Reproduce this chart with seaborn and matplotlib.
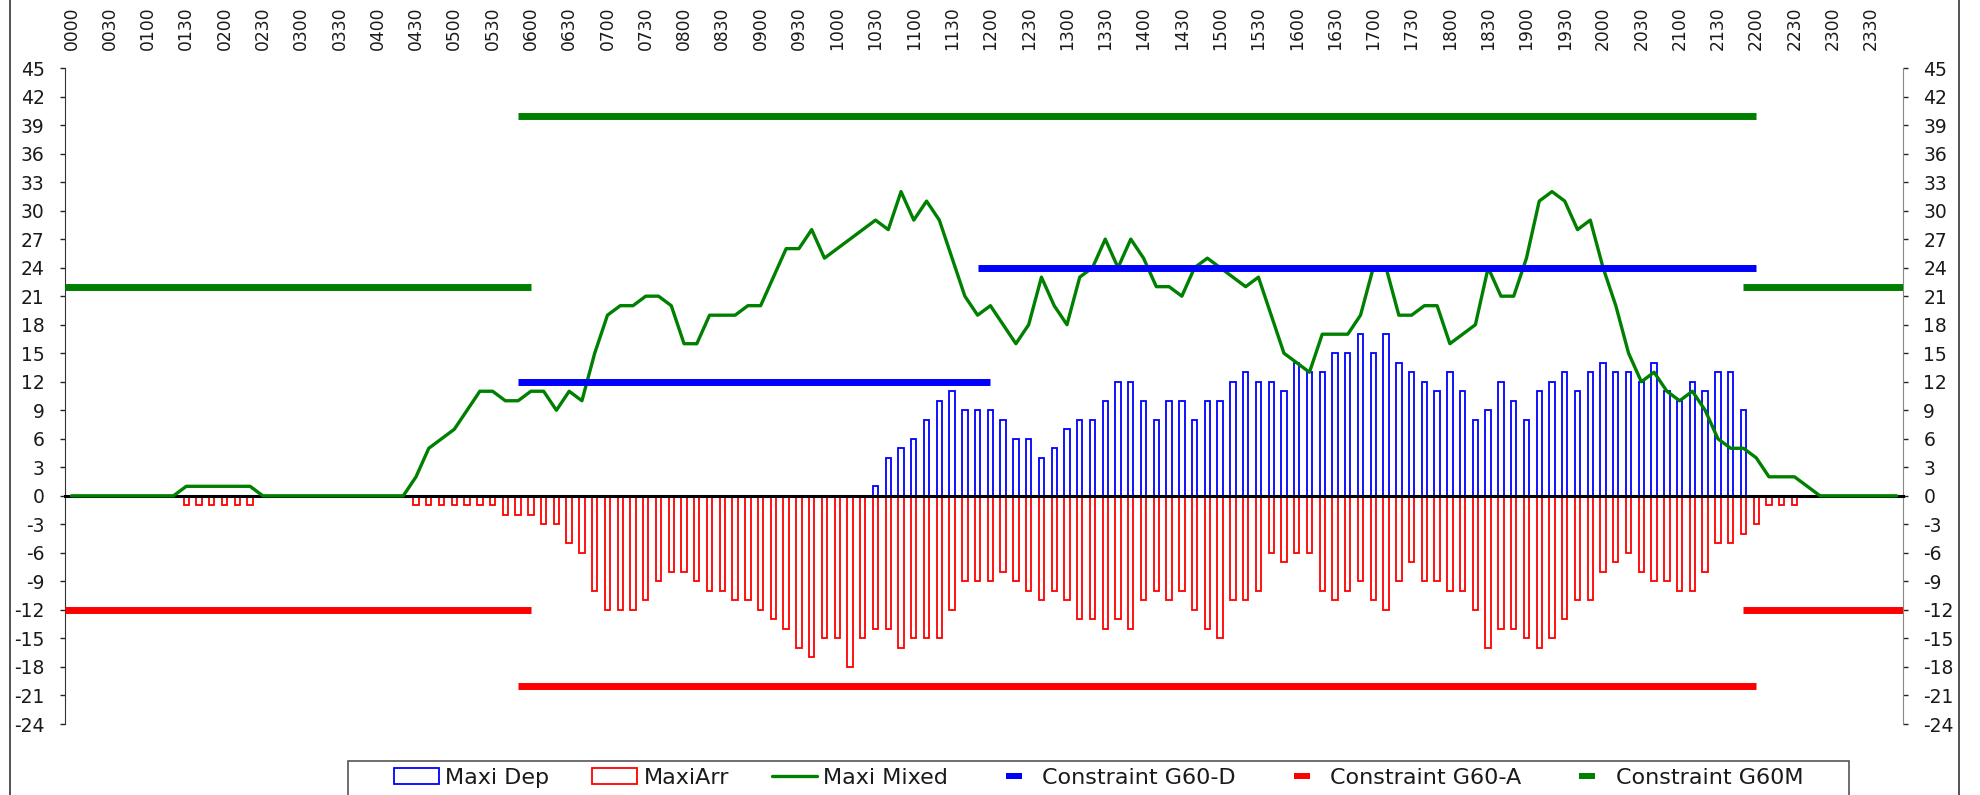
import numpy as np
import pandas as pd
import matplotlib
matplotlib.use("Agg")
import matplotlib.pyplot as plt
from matplotlib.lines import Line2D
from matplotlib.patches import Rectangle
import seaborn as sns

# 10-minute slots over the day, labelled hhmm
times = [f"{h:02d}{m:02d}" for h in range(24) for m in range(0, 60, 10)]

# one row per hour (6 slots)
maxi_dep = [
    0, 0, 0, 0, 0, 0,
    0, 0, 0, 0, 0, 0,
    0, 0, 0, 0, 0, 0,
    0, 0, 0, 0, 0, 0,
    0, 0, 0, 0, 0, 0,
    0, 0, 0, 0, 0, 0,
    0, 0, 0, 0, 0, 0,
    0, 0, 0, 0, 0, 0,
    0, 0, 0, 0, 0, 0,
    0, 0, 0, 0, 0, 0,
    0, 0, 0, 1, 4, 5,
    6, 8, 10, 11, 9, 9,
    9, 8, 6, 6, 4, 5,
    7, 8, 8, 10, 12, 12,
    10, 8, 10, 10, 8, 10,
    10, 12, 13, 12, 12, 11,
    14, 13, 13, 15, 15, 17,
    15, 17, 14, 13, 12, 11,
    13, 11, 8, 9, 12, 10,
    8, 11, 12, 13, 11, 13,
    14, 13, 13, 12, 14, 11,
    10, 12, 11, 13, 13, 9,
    0, 0, 0, 0, 0, 0,
    0, 0, 0, 0, 0, 0,
]

maxi_arr = [
    0, 0, 0, 0, 0, 0,
    0, 0, 0, -1, -1, -1,
    -1, -1, -1, 0, 0, 0,
    0, 0, 0, 0, 0, 0,
    0, 0, 0, -1, -1, -1,
    -1, -1, -1, -1, -2, -2,
    -2, -3, -3, -5, -6, -10,
    -12, -12, -12, -11, -9, -8,
    -8, -9, -10, -10, -11, -11,
    -12, -13, -14, -16, -17, -15,
    -15, -18, -15, -14, -14, -16,
    -15, -15, -15, -12, -9, -9,
    -9, -8, -9, -10, -11, -10,
    -11, -13, -13, -14, -13, -14,
    -11, -10, -11, -10, -12, -14,
    -15, -11, -11, -10, -6, -7,
    -6, -6, -10, -11, -10, -9,
    -11, -12, -9, -7, -9, -9,
    -10, -10, -12, -16, -14, -14,
    -15, -16, -15, -13, -11, -11,
    -8, -7, -6, -8, -9, -9,
    -10, -10, -8, -5, -5, -4,
    -3, -1, -1, -1, 0, 0,
    0, 0, 0, 0, 0, 0,
]

maxi_mixed = [
    0, 0, 0, 0, 0, 0,
    0, 0, 0, 1, 1, 1,
    1, 1, 1, 0, 0, 0,
    0, 0, 0, 0, 0, 0,
    0, 0, 0, 2, 5, 6,
    7, 9, 11, 11, 10, 10,
    11, 11, 9, 11, 10, 15,
    19, 20, 20, 21, 21, 20,
    16, 16, 19, 19, 19, 20,
    20, 23, 26, 26, 28, 25,
    26, 27, 28, 29, 28, 32,
    29, 31, 29, 25, 21, 19,
    20, 18, 16, 18, 23, 20,
    18, 23, 24, 27, 24, 27,
    25, 22, 22, 21, 24, 25,
    24, 23, 22, 23, 19, 15,
    14, 13, 17, 17, 17, 19,
    24, 24, 19, 19, 20, 20,
    16, 17, 18, 24, 21, 21,
    25, 31, 32, 31, 28, 29,
    24, 20, 15, 12, 13, 11,
    10, 11, 9, 6, 5, 5,
    4, 2, 2, 2, 1, 0,
    0, 0, 0, 0, 0, 0,
]

# constraint segments: from slot, to slot, value
g60d_from = ["0550", "1150"]
g60d_to = ["1200", "2200"]
g60d_val = [12, 24]

g60a_from = ["0000", "0550", "2150"]
g60a_to = ["0600", "2200", "2350"]
g60a_val = [-12, -20, -12]

g60m_from = ["0000", "0550", "2150"]
g60m_to = ["0600", "2200", "2350"]
g60m_val = [22, 40, 22]

BLUE = "#0000FF"
RED = "#FF0000"
GREEN = "#008000"
TXT = "#1a1a1a"

sns.set_style("white")
plt.rcParams["font.family"] = ["DejaVu Sans"]
plt.rcParams["axes.unicode_minus"] = False

df = pd.DataFrame({
    "time": times,
    "pos": np.arange(len(times)),
    "dep": maxi_dep,
    "arr": maxi_arr,
    "mixed": maxi_mixed,
})


def slot_x(t, is_end):
    # segments touching the day boundary run to the plot edge
    i = times.index(t)
    if not is_end and i == 0:
        return -0.5
    if is_end and i == len(times) - 1:
        return len(times) - 0.5
    return i


W, H = 1980, 795
fig = plt.figure(figsize=(W / 100, H / 100), dpi=100)
ax = fig.add_axes([65 / W, 1 - 724 / H, (1903 - 65) / W, (724 - 68) / H])

# bars (outline only)
sns.barplot(data=df[df["dep"] != 0], x="pos", y="dep", native_scale=True,
            fill=False, color=BLUE, width=0.42, linewidth=1.3,
            errorbar=None, ax=ax, zorder=2)
sns.barplot(data=df[df["arr"] != 0], x="pos", y="arr", native_scale=True,
            fill=False, color=RED, width=0.42, linewidth=1.3,
            errorbar=None, ax=ax, zorder=2)

# mixed line
sns.lineplot(data=df, x="pos", y="mixed", color=GREEN, linewidth=2.4,
             ax=ax, zorder=4)

# constraint lines
for starts, ends, vals, col in [(g60m_from, g60m_to, g60m_val, GREEN),
                                (g60d_from, g60d_to, g60d_val, BLUE),
                                (g60a_from, g60a_to, g60a_val, RED)]:
    for s, e, v in zip(starts, ends, vals):
        ax.plot([slot_x(s, False), slot_x(e, True)], [v, v], color=col,
                linewidth=5, solid_capstyle="butt", zorder=5)

ax.set_xlim(-0.5, len(times) - 0.5)
ax.set_ylim(-24, 45)
ax.set_xlabel("")
ax.set_ylabel("")

# x axis line sits on zero, ticks at slot boundaries
ax.spines["top"].set_visible(False)
ax.spines["bottom"].set_position(("data", 0))
ax.spines["bottom"].set_linewidth(2.2)
ax.spines["bottom"].set_color("black")
ax.spines["bottom"].set_zorder(3)
ax.set_xticks(np.arange(-0.5, len(times), 1))
ax.set_xticklabels([])
ax.tick_params(axis="x", direction="out", length=4, width=2.6, color="black")

ax.set_yticks(np.arange(-24, 46, 3))
ax.tick_params(axis="y", left=True, right=True, labelleft=True,
               labelright=True, direction="out", length=3.6, width=1,
               pad=11, labelsize=13.5, labelcolor=TXT)
ax.spines["left"].set_color("#333333")
ax.spines["right"].set_color("#888888")
for t in ax.yaxis.get_major_ticks():
    t.tick1line.set_color("#333333")
    t.tick2line.set_color("#888888")

# time labels along the top, every 30 min
top = ax.secondary_xaxis("top")
top.set_xticks(np.arange(0, len(times), 3), labels=times[::3])
top.tick_params(length=0, pad=13, labelsize=12.3, labelrotation=90,
                labelcolor=TXT)
top.spines["top"].set_visible(False)

# legend
box = [-1, -0.35], [1, -0.35], [1, 0.35], [-1, 0.35], [-1, -0.35]
handles = [
    Rectangle((0, 0), 1, 1, facecolor="none", edgecolor=BLUE, linewidth=1.3),
    Rectangle((0, 0), 1, 1, facecolor="none", edgecolor=RED, linewidth=1.3),
    Line2D([], [], color=GREEN, linewidth=2.4),
    Line2D([], [], linestyle="none", marker=list(box), markersize=11.5,
           markeredgewidth=0, color=BLUE),
    Line2D([], [], linestyle="none", marker=list(box), markersize=11.5,
           markeredgewidth=0, color=RED),
    Line2D([], [], linestyle="none", marker=list(box), markersize=11.5,
           markeredgewidth=0, color=GREEN),
]
labels = ["Maxi Dep", "MaxiArr", "Maxi Mixed", "Constraint G60-D",
          "Constraint G60-A", "Constraint G60M"]
fig.legend(handles, labels, loc="center left",
           bbox_to_anchor=(394 / W, 1 - 778 / H), ncol=6, frameon=False,
           fontsize=16, handlelength=2.03, handleheight=0.7,
           handletextpad=0.27, columnspacing=1.94, borderpad=0,
           borderaxespad=0, labelcolor=TXT)
fig.add_artist(Rectangle((348 / W, -0.02), (1849 - 348) / W,
                         1 - 761 / H + 0.02, transform=fig.transFigure,
                         fill=False, edgecolor="#555555", linewidth=1.2))

# chart area border
fig.add_artist(Rectangle((10 / W, -0.02), (1959 - 10) / W, 1.04,
                         transform=fig.transFigure, fill=False,
                         edgecolor="#444444", linewidth=1.3))

fig.savefig("out.png", dpi=100)
